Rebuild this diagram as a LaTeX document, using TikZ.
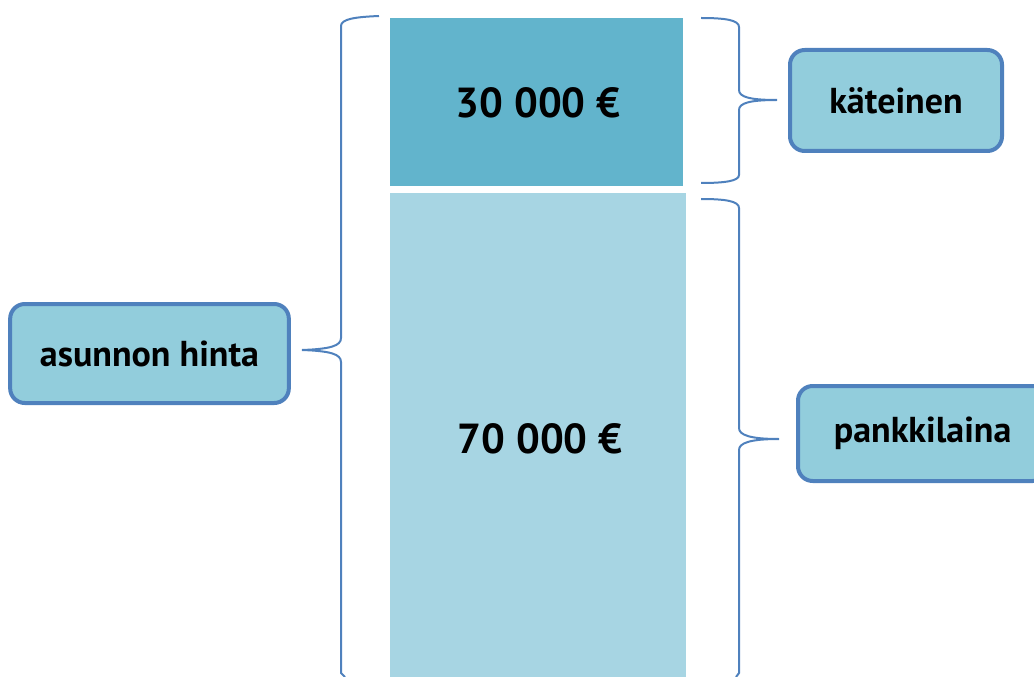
\documentclass[tikz,border=0pt]{standalone}
\usepackage{fontspec}
\setmainfont{PT Sans}
\definecolor{darkbar}{HTML}{62B4CC}
\definecolor{lightbar}{HTML}{A7D5E3}
\definecolor{boxfill}{HTML}{92CDDC}
\definecolor{edge}{HTML}{4F81BD}
\begin{document}
\begin{tikzpicture}[x=0.75pt,y=-0.75pt,
  bar/.style={anchor=north west,inner sep=0pt},
  bartext/.style={font=\fontsize{31.5}{35}\selectfont\bfseries},
  label/.style={draw=edge,line width=3pt,fill=boxfill,rounded corners=11pt,inner sep=0pt,font=\fontsize{27}{31}\selectfont\bfseries},
  brace/.style={draw=edge,line width=1.5pt}]
\useasboundingbox (0,0) rectangle (1034,677);
\node[bar,fill=darkbar,minimum width=219.75pt,minimum height=126pt] (top) at (390,18) {};
\node[bar,fill=lightbar,minimum width=222pt,minimum height=363pt] (bot) at (390,193) {};
\node[bartext] (t30) at (538,103) {30 000 €};
\node[bartext] (t70) at (540,439) {70 000 €};
\node[label,minimum width=159pt,minimum height=75.75pt] (kat) at (896,100.5) {käteinen};
\node[label,minimum width=209pt,minimum height=74.25pt] (asu) at (149.5,353.5) {asunnon hinta};
\node[label,minimum width=187pt,minimum height=71.25pt,anchor=west] (pan) at (796,433.5) {pankkilaina};
\coordinate (lb) at (302,350);
\coordinate (rt) at (777,100);
\coordinate (rb) at (779,439);
\draw[brace] (379,16) .. controls (355,17) and (341,19) .. (341,26) -- (341,338)
  .. controls (341,346) and (330,349) .. (lb) .. controls (330,351) and (341,354) .. (341,362)
  -- (341,673) -- (345,677);
\draw[brace] (701,18) .. controls (725,18) and (739,20) .. (739,27) -- (739,90)
  .. controls (739,97) and (750,100) .. (rt) .. controls (750,100) and (739,103) .. (739,110)
  -- (739,175) .. controls (739,181) and (725,183) .. (701,183);
\draw[brace] (701,199) .. controls (725,199) and (739,201) .. (739,208) -- (739,428)
  .. controls (739,435) and (750,439) .. (rb) .. controls (750,439) and (739,443) .. (739,450)
  -- (739,673) -- (736,677);
\end{tikzpicture}
\end{document}
